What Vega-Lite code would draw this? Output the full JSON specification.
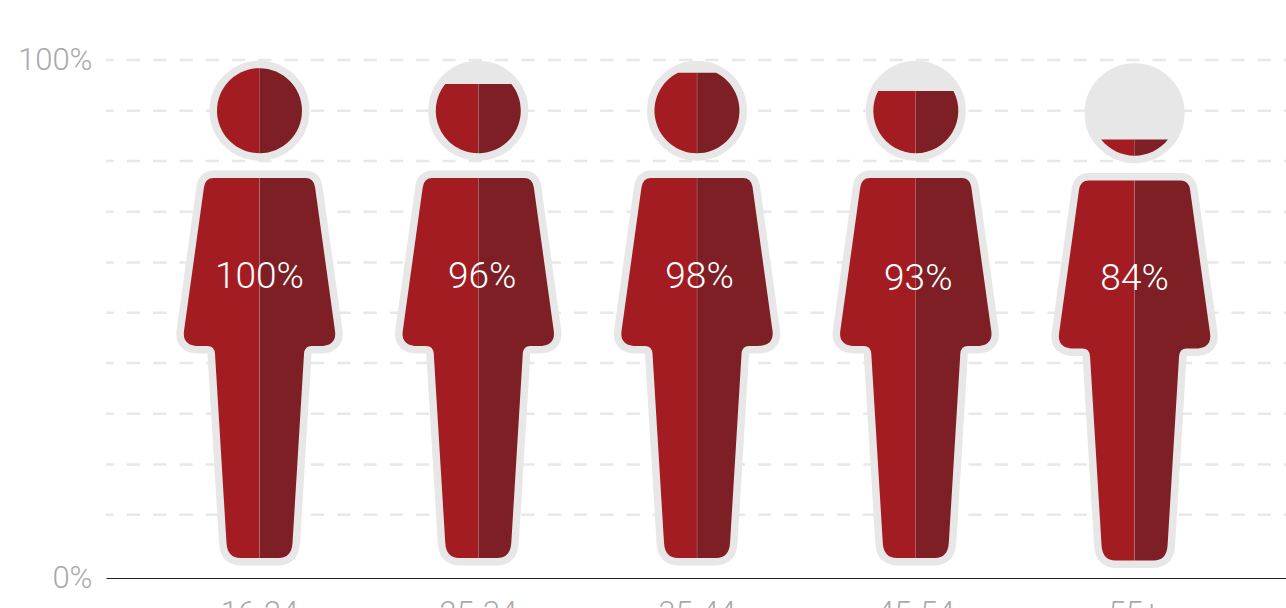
{
  "$schema": "https://vega.github.io/schema/vega-lite/v6.json",
  "width": 1180,
  "height": 518,
  "autosize": "none",
  "padding": {"left": 106, "top": 60, "right": 0, "bottom": 30},
  "background": "white",
  "config": {
    "view": {"stroke": null},
    "axis": {"labelFont": "Roboto", "labelFontWeight": 300, "labelFontSize": 31, "labelColor": "#aaaaaa", "ticks": false, "title": null, "grid": false}
  },
  "data": {"values": [
    {"age": "16-24", "share": 100},
    {"age": "25-34", "share": 96},
    {"age": "35-44", "share": 98},
    {"age": "45-54", "share": 93},
    {"age": "55+", "share": 84}
  ]},
  "resolve": {"scale": {"shape": "independent"}},
  "layer": [
    {
      "data": {"values": [{"level": 100}, {"level": 90.2}, {"level": 80.5}, {"level": 70.7}, {"level": 60.9}, {"level": 51.2}, {"level": 41.5}, {"level": 31.7}, {"level": 21.9}, {"level": 12.2}]},
      "mark": {"type": "rule", "stroke": "#e8e8e8", "strokeWidth": 2.5, "strokeDash": [13.3, 13], "strokeDashOffset": 11.3},
      "encoding": {
        "y": {
          "field": "level",
          "type": "quantitative",
          "scale": {"domain": [0, 100], "nice": false},
          "axis": {"values": [0, 100], "labelExpr": "datum.value + '%'", "domain": false, "labelPadding": 14, "labelBaseline": "middle"}
        }
      }
    },
    {
      "mark": {"type": "point", "filled": true, "opacity": 1, "size": 4, "fill": "#e7e7e7", "stroke": "#e7e7e7", "strokeWidth": 15, "strokeJoin": "round", "yOffset": {"expr": "datum.age === '55+' ? 2.5 : 0"},
        "shape": "M-42.5 -208.3A42.5 42.5 0 1 1 42.5 -208.3A42.5 42.5 0 1 1 -42.5 -208.3ZM-46 -141L46 -141Q54 -141 55.5 -132L75.5 12Q77.5 27 60 27L52 27Q45 27 44.5 35L33 224Q32 239 19 239L-19 239Q-32 239 -33 224L-44.5 35Q-45 27 -52 27L-60 27Q-77.5 27 -75.5 12L-55.5 -132Q-54 -141 -46 -141Z"},
      "encoding": {
        "x": {
          "field": "age",
          "type": "nominal",
          "sort": null,
          "scale": {"type": "band", "paddingInner": 0, "paddingOuter": 0.197, "align": 0.512},
          "axis": {"labelAngle": 0, "domain": true, "domainColor": "#222222", "domainWidth": 1, "labelPadding": 20}
        },
        "y": {"datum": 50, "type": "quantitative"}
      }
    },
    {
      "mark": {"type": "point", "filled": true, "opacity": 1, "size": 4, "fill": "#a31c21", "strokeWidth": 0, "yOffset": {"expr": "datum.age === '55+' ? 2.5 : 0"},
        "shape": "M-0.12 -141L-46 -141Q-54 -141 -55.5 -132L-75.5 12Q-77.5 27 -60 27L-52 27Q-45 27 -44.5 35L-33 224Q-32 239 -19 239L-0.12 239Z"},
      "encoding": {
        "x": {"field": "age", "type": "nominal", "sort": null},
        "y": {"datum": 50, "type": "quantitative"}
      }
    },
    {
      "mark": {"type": "point", "filled": true, "opacity": 1, "size": 4, "fill": "#7d1f24", "strokeWidth": 0, "yOffset": {"expr": "datum.age === '55+' ? 2.5 : 0"},
        "shape": "M0.12 -141L46 -141Q54 -141 55.5 -132L75.5 12Q77.5 27 60 27L52 27Q45 27 44.5 35L33 224Q32 239 19 239L0.12 239Z"},
      "encoding": {
        "x": {"field": "age", "type": "nominal", "sort": null},
        "y": {"datum": 50, "type": "quantitative"}
      }
    },
    {
      "mark": {"type": "point", "filled": true, "opacity": 1, "size": 4, "fill": "#a31c21", "strokeWidth": 0, "yOffset": {"expr": "datum.age === '55+' ? 2.5 : 0"}},
      "encoding": {
        "x": {"field": "age", "type": "nominal", "sort": null},
        "y": {"datum": 50, "type": "quantitative"},
        "shape": {
          "field": "share",
          "type": "nominal",
          "legend": null,
          "scale": {
            "domain": [100, 96, 98, 93, 84],
            "range": [
              "M0 -250.8A42.5 42.5 0 0 0 0 -165.8Z",
              "M-0.12 -235L-33.07 -235A42.5 42.5 0 0 0 -0.12 -165.8Z",
              "M-0.12 -246.3L-19.03 -246.3A42.5 42.5 0 0 0 -0.12 -165.8Z",
              "M-0.12 -228L-37.66 -228A42.5 42.5 0 0 0 -0.12 -165.8Z",
              "M0 -182L-33.38 -182A42.5 42.5 0 0 0 0 -165.8Z"
            ]
          }
        }
      }
    },
    {
      "mark": {"type": "point", "filled": true, "opacity": 1, "size": 4, "fill": "#7d1f24", "strokeWidth": 0, "yOffset": {"expr": "datum.age === '55+' ? 2.5 : 0"}},
      "encoding": {
        "x": {"field": "age", "type": "nominal", "sort": null},
        "y": {"datum": 50, "type": "quantitative"},
        "shape": {
          "field": "share",
          "type": "nominal",
          "legend": null,
          "scale": {
            "domain": [100, 96, 98, 93, 84],
            "range": [
              "M0 -250.8A42.5 42.5 0 0 1 0 -165.8Z",
              "M0.12 -235L33.07 -235A42.5 42.5 0 0 1 0.12 -165.8Z",
              "M0.12 -246.3L19.03 -246.3A42.5 42.5 0 0 1 0.12 -165.8Z",
              "M0.12 -228L37.66 -228A42.5 42.5 0 0 1 0.12 -165.8Z",
              "M0 -182L33.38 -182A42.5 42.5 0 0 1 0 -165.8Z"
            ]
          }
        }
      }
    },
    {
      "transform": [{"calculate": "datum.share + '%'", "as": "label"}],
      "mark": {"type": "text", "font": "Roboto", "fontWeight": 300, "fontSize": 37, "fill": "white", "align": "center", "baseline": "middle",
        "xOffset": {"expr": "datum.share === 96 ? 4 : datum.share === 98 || datum.share === 93 ? 2.5 : 0"},
        "yOffset": {"expr": "datum.share < 95 ? 2 : 0"}},
      "encoding": {
        "x": {"field": "age", "type": "nominal", "sort": null},
        "y": {"datum": 58.2, "type": "quantitative"},
        "text": {"field": "label", "type": "nominal"}
      }
    }
  ]
}
